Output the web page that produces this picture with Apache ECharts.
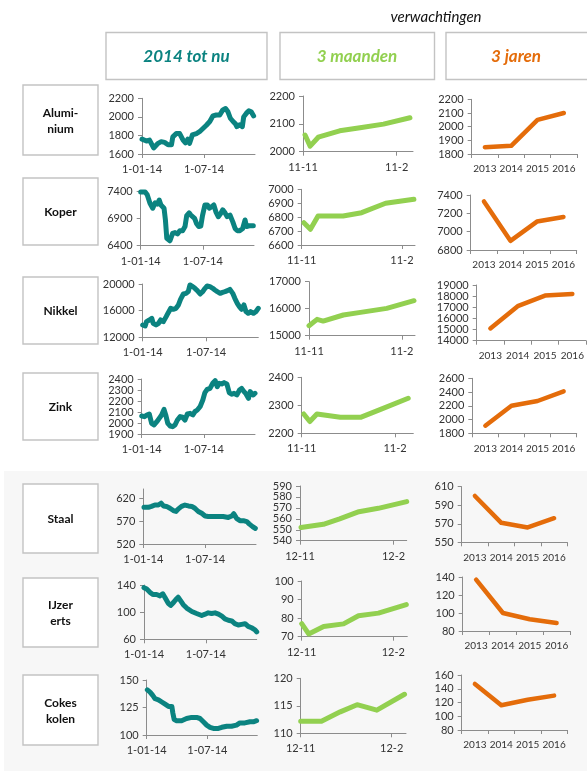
<!DOCTYPE html>
<html>
<head>
<meta charset="utf-8">
<script src="https://cdn.jsdelivr.net/npm/echarts@6/dist/echarts.min.js"></script>
<style>
  html, body { margin: 0; padding: 0; background: #ffffff; }
  #wrap { position: relative; width: 587px; height: 771px; }
  #shade { position: absolute; left: 4px; top: 471px; width: 583px; height: 300px; background: #f7f7f7; }
  #c { position: absolute; left: 0; top: 0; width: 587px; height: 771px; }
</style>
</head>
<body>
<div id="wrap"><div id="shade"></div><div id="c"></div></div>
<script>
// ---- labels ----
const rowNames = [['Alumi-', 'nium'], ['Koper'], ['Nikkel'], ['Zink'], ['Staal'], ['IJzer', 'erts'], ['Cokes', 'kolen']];
const years = ['2013', '2014', '2015', '2016'];
const ytdTickDays = [0, 181];
const ytdTickLabels = ['1-01-14', '1-07-14'];
const m3TickDays = [0, 92];
const m3LabelsNov = ['11-11', '11-2'];
const m3LabelsDec = ['12-11', '12-2'];

// ---- 2014 tot nu: [dagen sinds 1-01-14, prijs] ----
const aluminiumYtd = [[0,1760],[13,1740],[22,1750],[34,1665],[47,1715],[56,1733],[66,1725],[76,1700],[86,1700],[90,1785],[100,1820],[110,1820],[120,1750],[127,1720],[134,1760],[139,1715],[147,1805],[159,1820],[168,1840],[178,1875],[188,1910],[198,1950],[207,2010],[217,2020],[227,2020],[236,2075],[244,2090],[251,2055],[258,1985],[266,1950],[273,1925],[277,1895],[285,1915],[293,1895],[297,2000],[305,2040],[312,2065],[319,2055],[326,2010]];
const koperYtd = [[0,7380],[13,7380],[19,7330],[27,7175],[35,7085],[42,7185],[49,7160],[54,7235],[59,7145],[64,7115],[68,7085],[72,6870],[76,6535],[81,6515],[85,6490],[88,6475],[93,6625],[100,6640],[107,6615],[114,6675],[122,6675],[129,6750],[134,6950],[141,7000],[146,6960],[151,6990],[157,6900],[163,6800],[169,6750],[175,6760],[180,6950],[187,7145],[194,7145],[200,7085],[207,7115],[213,7145],[219,7020],[226,6930],[233,6990],[239,7055],[245,7005],[252,6930],[260,6960],[268,6840],[275,6715],[281,6675],[289,6675],[297,6715],[304,6870],[308,6750],[316,6765],[328,6765]];
const nikkelYtd = [[0,13850],[7,13700],[11,14350],[19,14600],[26,14850],[30,14100],[38,13850],[45,14100],[51,14600],[59,14350],[67,15100],[73,15700],[80,16350],[87,16200],[95,16350],[102,16850],[108,17700],[116,18500],[124,18600],[130,18850],[135,19850],[143,19600],[149,19350],[156,19000],[164,18500],[171,18850],[178,19350],[184,19700],[192,19600],[200,19350],[206,19100],[213,18850],[221,18600],[228,18750],[235,18850],[242,19000],[249,19200],[257,18600],[263,17850],[270,17100],[276,16600],[282,16200],[289,16850],[295,15850],[301,15600],[308,15850],[316,15600],[323,15850],[330,16350]];
const zinkYtd = [[0,2064],[8,2058],[15,2073],[22,2082],[29,1997],[36,1982],[44,2012],[51,2042],[58,2073],[65,2124],[70,2073],[76,1997],[83,1973],[90,1967],[97,1982],[104,2027],[112,2058],[119,2052],[126,2027],[133,2082],[141,2088],[149,2073],[155,2103],[162,2118],[170,2148],[178,2209],[184,2276],[191,2306],[199,2315],[207,2361],[214,2385],[220,2330],[226,2361],[233,2355],[240,2367],[248,2355],[255,2276],[262,2261],[269,2270],[277,2255],[285,2300],[291,2315],[298,2285],[304,2264],[311,2224],[316,2285],[320,2270],[325,2255],[330,2270]];
const staalYtd = [[2,600],[15,600],[24,602],[34,605],[44,605],[52,609],[59,603],[68,602],[78,598],[88,593],[96,591],[102,596],[112,602],[122,605],[132,603],[142,602],[151,598],[161,591],[171,587],[181,581],[190,580],[205,580],[220,580],[234,580],[249,578],[259,581],[265,586],[273,576],[283,571],[293,571],[303,569],[310,564],[320,558],[328,554]];
const ijzerertsYtd = [[0,136],[8,134],[18,129],[26,126],[37,126],[47,124],[55,127],[61,122],[71,113],[78,110],[86,114],[94,119],[100,122],[107,117],[115,111],[125,106],[140,101],[154,98],[169,95],[179,97],[188,99],[198,98],[208,99],[218,97],[228,94],[237,90],[247,88],[257,87],[266,83],[276,81],[286,82],[296,83],[305,79],[315,77],[325,74],[330,71]];
const cokesYtd = [[2,141],[10,139],[18,136],[25,133],[35,132],[45,130],[55,128],[65,126],[75,126],[78,120],[82,114],[89,113],[104,113],[119,115],[134,116],[149,116],[159,115],[169,112],[179,109],[189,107],[199,106],[214,106],[224,107],[239,108],[253,108],[268,109],[278,111],[293,111],[308,112],[318,112],[328,113]];

// ---- verwachtingen 3 maanden: [dagen sinds startdatum, prijs] ----
const aluminium3m = [[2,2060],[7,2020],[15,2052],[36,2075],[56,2086],[79,2099],[105,2122]];
const koper3m = [[2,6760],[8,6713],[15,6808],[38,6808],[55,6832],[77,6900],[103,6928]];
const nikkel3m = [[0,15370],[8,15605],[14,15543],[34,15766],[51,15864],[77,16013],[104,16297]];
const zink3m = [[2,2269],[8,2242],[15,2269],[38,2257],[58,2257],[79,2287],[105,2325]];
const staal3m = [[1,552],[23,555],[39,560],[58,566.5],[77,569.6],[105,575.7]];
const ijzererts3m = [[0,77],[7,71.5],[22,75.5],[42,76.9],[57,81.3],[77,82.7],[105,87.3]];
const cokes3m = [[0,112.2],[21,112.2],[40,113.9],[57,115.2],[77,114.2],[105,117.1]];

// ---- verwachtingen 3 jaren (2013-2016) ----
const aluminium3y = [1850, 1860, 2050, 2100];
const koper3y = [7330, 6900, 7110, 7160];
const nikkel3y = [15100, 17100, 18050, 18200];
const zink3y = [1910, 2200, 2270, 2410];
const staal3y = [600, 571, 566, 576];
const ijzererts3y = [137, 100, 93, 89];
const cokes3y = [147, 116, 124, 130];

// ---- y-axis tick labels ----
const ytdYTicks = [[1600,1800,2000,2200],[6400,6900,7400],[12000,16000,20000],[1900,2000,2100,2200,2300,2400],[520,570,620],[60,100,140],[100,125,150]];
const m3YTicks = [[2000,2100,2200],[6600,6700,6800,6900,7000],[15000,16000,17000],[2200,2300,2400],[540,550,560,570,580,590],[70,80,90,100],[110,115,120]];
const y3YTicks = [[1800,1900,2000,2100,2200],[6800,7000,7200,7400],[14000,15000,16000,17000,18000,19000],[1800,2000,2200,2400,2600],[550,570,590,610],[80,100,120,140],[80,100,120,140,160]];

const ytdData = [aluminiumYtd, koperYtd, nikkelYtd, zinkYtd, staalYtd, ijzerertsYtd, cokesYtd];
const m3Data = [aluminium3m, koper3m, nikkel3m, zink3m, staal3m, ijzererts3m, cokes3m];
const y3Data = [aluminium3y, koper3y, nikkel3y, zink3y, staal3y, ijzererts3y, cokes3y];

// ---- layout: plot rectangles [left, top, right, bottom] per row, per column ----
const cells = [
  [[142,98.3,255,154],   [303,96,413,151.7],    [471.7,99.3,577,154]],
  [[140.7,191,254,245.7],[301.7,189.3,415,245], [470.7,195,576.7,250]],
  [[142.7,284,258.3,337.3],[309,281.7,415,335.7],[476.7,285,586,340.7]],
  [[141.7,379,255,434],  [301.7,377.3,413.3,433.3],[472.3,378.3,576.7,433.3]],
  [[143.3,489,256,544],  [300,486,406.7,540.7], [461.7,486.7,567.3,542.3]],
  [[144,585,256.7,639.3],[301.7,581,407.3,636.7],[462.7,577,570,631]],
  [[146.7,680,257.3,735],[300.7,678.3,406,733.3],[461.7,675,567.3,730]]
];
const ytdMaxDay = 330;
const m3MaxDay = [108, 104, 105, 110, 105, 106, 106.5];
const ytdYMaxOverride = { 4: 640 };
const rowBoxes = [[85,155],[178,245],[277,344],[373,440],[484,553],[578,647],[675,745]];

const teal = '#0b8380', green = '#92d050', orange = '#e46c0a';
const axisGray = '#8c8c8c';
const FONT = 'Lato, "Open Sans", sans-serif';
const labelStyle = { fontFamily: FONT, fontSize: 11, color: '#333333' };
const plain = v => String(v);

const grids = [], xAxes = [], yAxes = [], series = [];

function yAxisFor(idx, ticks, max) {
  return {
    type: 'value', gridIndex: idx, min: ticks[0], max: max != null ? max : ticks[ticks.length - 1],
    axisLine: { show: true, lineStyle: { color: axisGray, width: 1 } },
    axisTick: { show: true, length: 4, customValues: ticks, lineStyle: { color: axisGray } },
    axisLabel: Object.assign({ customValues: ticks, margin: 8, formatter: plain }, labelStyle),
    splitLine: { show: false }
  };
}

for (let r = 0; r < 7; r++) {
  for (let c = 0; c < 3; c++) {
    const idx = r * 3 + c;
    const [l, t, rr, b] = cells[r][c];
    grids.push({ left: l, top: t, width: rr - l, height: b - t, containLabel: false, outerBoundsMode: 'none' });
    if (c === 0) {
      xAxes.push({
        type: 'value', gridIndex: idx, min: 0, max: ytdMaxDay,
        axisLine: { show: true, lineStyle: { color: axisGray, width: 1 } },
        axisTick: { show: true, length: 4, customValues: ytdTickDays, lineStyle: { color: axisGray } },
        axisLabel: Object.assign({ customValues: ytdTickDays, margin: 10,
          formatter: v => ytdTickLabels[ytdTickDays.indexOf(v)] }, labelStyle),
        splitLine: { show: false }
      });
      yAxes.push(yAxisFor(idx, ytdYTicks[r], ytdYMaxOverride[r]));
      series.push({ type: 'line', xAxisIndex: idx, yAxisIndex: idx, data: ytdData[r], symbol: 'none',
        lineStyle: { color: teal, width: 5, cap: 'round', join: 'round' } });
    } else if (c === 1) {
      const labs = r < 4 ? m3LabelsNov : m3LabelsDec;
      xAxes.push({
        type: 'value', gridIndex: idx, min: 0, max: m3MaxDay[r],
        axisLine: { show: true, lineStyle: { color: axisGray, width: 1 } },
        axisTick: { show: true, length: 4, customValues: m3TickDays, lineStyle: { color: axisGray } },
        axisLabel: Object.assign({ customValues: m3TickDays, margin: 10,
          formatter: v => labs[m3TickDays.indexOf(v)] }, labelStyle),
        splitLine: { show: false }
      });
      yAxes.push(yAxisFor(idx, m3YTicks[r]));
      series.push({ type: 'line', xAxisIndex: idx, yAxisIndex: idx, data: m3Data[r], symbol: 'none',
        lineStyle: { color: green, width: 5, cap: 'round', join: 'round' } });
    } else {
      xAxes.push({
        type: 'category', gridIndex: idx, data: years, boundaryGap: true,
        axisLine: { show: true, lineStyle: { color: axisGray, width: 1 } },
        axisTick: { show: true, length: 4, alignWithLabel: false, interval: 0, lineStyle: { color: axisGray } },
        axisLabel: Object.assign({}, labelStyle, { interval: 0, margin: 10, fontSize: 10 }),
        splitLine: { show: false }
      });
      yAxes.push(yAxisFor(idx, y3YTicks[r]));
      series.push({ type: 'line', xAxisIndex: idx, yAxisIndex: idx, data: y3Data[r], symbol: 'none',
        lineStyle: { color: orange, width: 4.5, cap: 'round', join: 'round' } });
    }
  }
}

// ---- boxes and headings ----
const boxStyle = { fill: '#ffffff', stroke: '#c3c3c3', lineWidth: 1.4 };
const graphics = [
  { type: 'text', style: { text: 'verwachtingen', x: 436, y: 17, font: 'italic 15px ' + FONT, fill: '#111111', align: 'center', verticalAlign: 'middle' } },
  { type: 'rect', shape: { x: 106, y: 32.5, width: 161, height: 47 }, style: boxStyle },
  { type: 'rect', shape: { x: 280, y: 32.5, width: 154.5, height: 47 }, style: boxStyle },
  { type: 'rect', shape: { x: 446, y: 32.5, width: 160, height: 47 }, style: boxStyle },
  { type: 'text', style: { text: '2014 tot nu', x: 186.5, y: 57, font: 'italic bold 17px ' + FONT, fill: teal, align: 'center', verticalAlign: 'middle' } },
  { type: 'text', style: { text: '3 maanden', x: 357, y: 57, font: 'italic bold 17px ' + FONT, fill: green, align: 'center', verticalAlign: 'middle' } },
  { type: 'text', style: { text: '3 jaren', x: 516, y: 57, font: 'italic bold 17px ' + FONT, fill: orange, align: 'center', verticalAlign: 'middle' } }
];
rowNames.forEach((lines, r) => {
  const [t, b] = rowBoxes[r];
  graphics.push({ type: 'rect', shape: { x: 23, y: t, width: 75, height: b - t }, style: boxStyle });
  graphics.push({ type: 'text', style: { text: lines.join('\n'), x: 60.5, y: (t + b) / 2 + 1,
    font: 'bold 12px ' + FONT, lineHeight: 16, fill: '#111111', align: 'center', verticalAlign: 'middle' } });
});

const chart = echarts.init(document.getElementById('c'), null, { renderer: 'canvas' });
chart.setOption({
  animation: false,
  backgroundColor: 'transparent',
  grid: grids,
  xAxis: xAxes,
  yAxis: yAxes,
  series: series,
  graphic: graphics
});
</script>
</body>
</html>
